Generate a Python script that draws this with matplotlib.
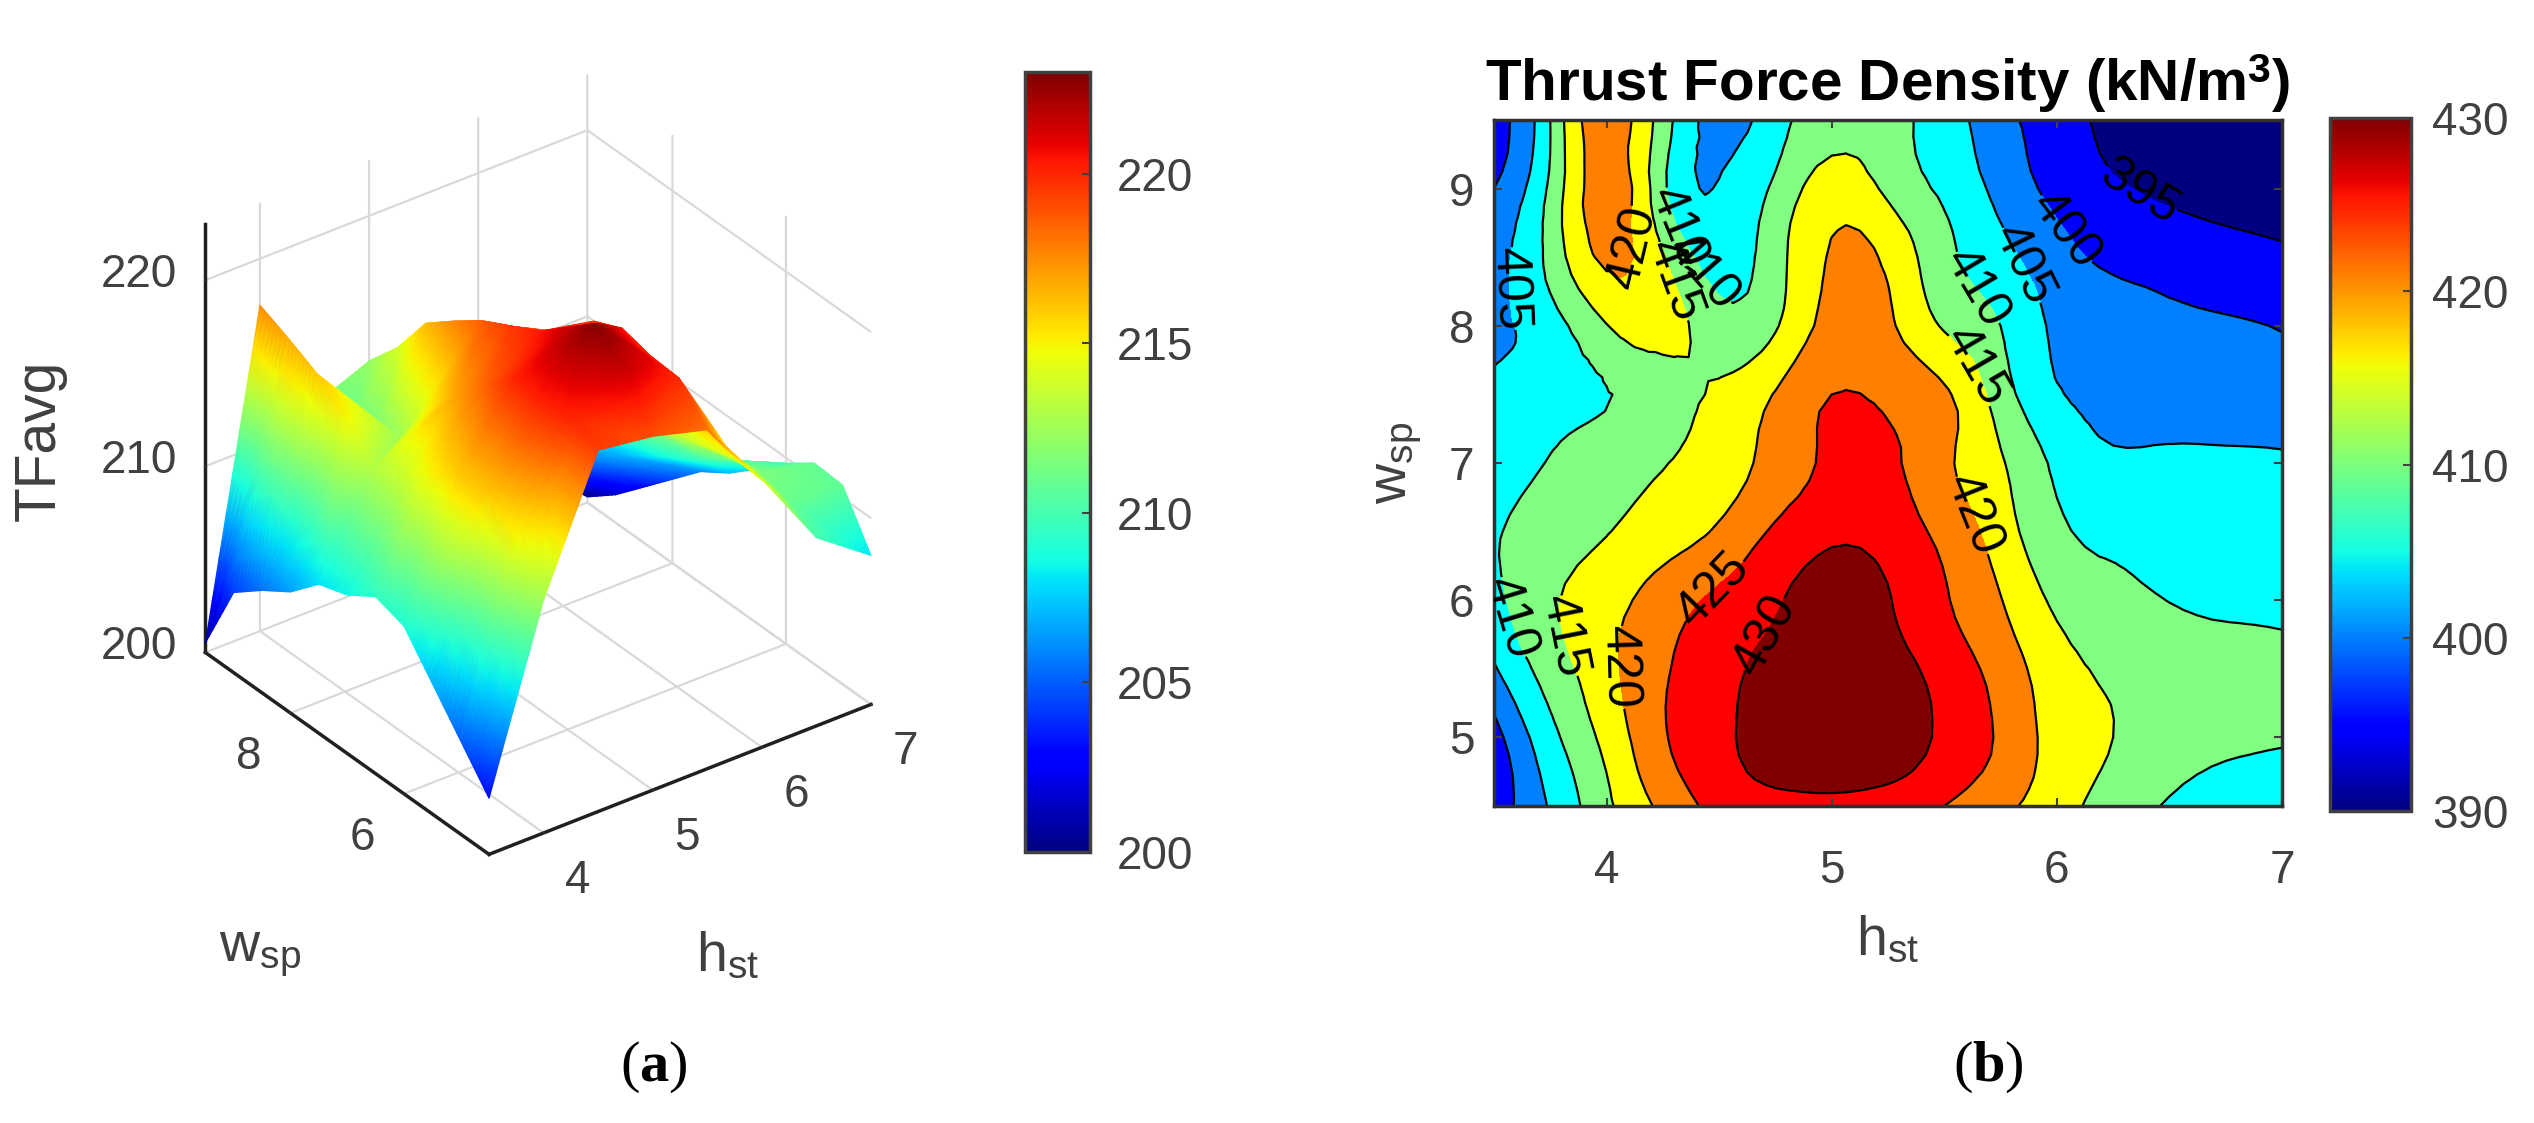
import numpy as np
import matplotlib
matplotlib.use("Agg")
import matplotlib.pyplot as plt
import matplotlib.tri as mtri
from matplotlib.cm import ScalarMappable
from matplotlib.colors import Normalize
from mpl_toolkits.mplot3d import proj3d

plt.rcParams["font.family"] = ["Liberation Sans", "DejaVu Sans"]
plt.rcParams["mathtext.fontset"] = "custom"
plt.rcParams["mathtext.rm"] = "Liberation Sans"
plt.rcParams["mathtext.bf"] = "Liberation Sans:bold"
plt.rcParams["mathtext.it"] = "Liberation Serif:bold"

W, H = 2534, 1123
GREY = "#404040"

# surface values (a)
h_a = [3.5, 4, 4.5, 5, 5.5, 6, 6.5, 7]
w_a = [4.5, 5, 5.5, 6, 6.5, 7, 7.5, 8, 8.5, 9, 9.5]
tf_45 = [203, 212.5, 219.4, 219, 218.2, 214.4, 210.1, 208]
tf_50 = [205, 215, 220, 221.5, 219.9, 214.5, 211, 210.7]
tf_55 = [207, 216, 220.5, 222.9, 220, 214, 211.5, 210.8]
tf_60 = [209, 216, 220, 221.6, 220.4, 213.5, 211, 209.7]
tf_65 = [209.5, 215, 218.5, 220.3, 219.7, 213, 210, 208.3]
tf_70 = [208.5, 213.5, 217, 219.5, 218, 212.5, 209, 207]
tf_75 = [208, 213, 215, 218.7, 217, 211.5, 208, 206]
tf_80 = [206.5, 215, 212.5, 217.6, 216, 211, 207, 204.5]
tf_85 = [205.5, 216, 211, 216.4, 214.5, 210, 205.5, 203]
tf_90 = [204.3, 216.8, 210.5, 214, 213, 208.5, 204, 201.5]
tf_95 = [200.5, 217.5, 211, 212.2, 211, 207, 203, 200.3]

# contour values (b)
h_b = [3.5, 3.75, 4, 4.25, 4.5, 4.75, 5, 5.25, 5.5, 5.75, 6, 6.25, 6.5, 6.75, 7]
w_b = [4.5, 5, 5.5, 6, 6.5, 7, 7.5, 8, 8.5, 9, 9.5]
d_45 = [397, 405.5, 414, 421.2, 426.5, 428, 428.5, 427.5, 425, 421.3, 417, 412.8, 409.5, 407.5, 407]
d_50 = [398, 408.5, 416.5, 424.5, 428.7, 433, 434, 433, 429, 424.3, 418, 415, 412.5, 411, 410.4]
d_55 = [404.5, 412.3, 418.5, 424.5, 428, 432, 433, 432, 428, 423, 417, 414.2, 412.5, 411.5, 411]
d_60 = [408.5, 414.3, 418, 422.5, 426, 429.5, 432, 430.3, 425.5, 420.2, 414, 411.5, 409.9, 409.2, 409]
d_65 = [409.5, 412.5, 414.8, 417.5, 420.7, 425.8, 429, 428, 423.5, 417.5, 411, 408.8, 408, 407.6, 407.3]
d_70 = [407, 410.3, 412.5, 414.7, 417.8, 421.8, 426, 426, 421, 415.5, 409, 405.8, 406, 406, 405.7]
d_75 = [406, 408, 409.8, 412.5, 415.8, 420.3, 425, 424, 420.8, 412.5, 405.5, 403.2, 402.5, 402.2, 402]
d_80 = [404, 408, 414.8, 417, 412, 414.5, 422, 421, 414.5, 410, 404, 402.5, 401.2, 400.5, 399.8]
d_85 = [403.5, 411.5, 421, 415.5, 408, 413, 420.5, 419, 411.5, 406.5, 401.8, 398.9, 397.5, 396.7, 396]
d_90 = [400, 411, 423, 411, 405.2, 411, 417.5, 414, 409, 403.5, 398.5, 395.5, 394.3, 393.5, 392.5]
d_95 = [398, 410, 423, 412.5, 403, 408, 413, 412, 407.5, 401.5, 397.5, 393.5, 392, 391, 390.5]

levels_b = [385, 395, 400, 405, 410, 415, 420, 425, 430, 440]
band_colors = ["#000080", "#0000ff", "#0080ff", "#00ffff", "#80ff80",
               "#ffff00", "#ff8000", "#ff0000", "#800000"]
label_spots = [(6.39, 9.04), (6.03, 8.69), (5.82, 8.42), (5.64, 8.27), (5.60, 7.67),
               (5.60, 6.60), (4.53, 5.98), (4.72, 5.73), (4.03, 5.51), (3.80, 5.73),
               (3.59, 5.88), (3.61, 8.27), (4.10, 8.57), (4.29, 8.32), (4.32, 8.72),
               (4.41, 8.37)]


def px_axes(fig, x0, y0, x1, y1, **kw):
    # pixel box measured from the top left of the image
    return fig.add_axes([x0 / W, 1 - y1 / H, (x1 - x0) / W, (y1 - y0) / H], **kw)


def bar(fig, box, vmin, vmax, ticks, pad):
    cax = px_axes(fig, *box)
    cb = fig.colorbar(ScalarMappable(Normalize(vmin, vmax), "jet"), cax=cax, ticks=ticks)
    cb.ax.tick_params(labelsize=33, colors=GREY, direction="in", length=6, width=1.5, pad=pad)
    cb.outline.set_edgecolor(GREY)
    cb.outline.set_linewidth(2.5)


def refined(h, w, z, subdiv, linear=False):
    # smooth a grid with matplotlib's own triangle refiner
    hh, ww = np.meshgrid(h, w)
    tri = mtri.Triangulation(hh.ravel(), ww.ravel())
    interp = mtri.LinearTriInterpolator(tri, np.ravel(z)) if linear else None
    return mtri.UniformTriRefiner(tri).refine_field(np.ravel(z), triinterpolator=interp, subdiv=subdiv)


fig = plt.figure(figsize=(W / 100, H / 100), dpi=100)

# (a) surface
tf = np.array([tf_45, tf_50, tf_55, tf_60, tf_65, tf_70, tf_75, tf_80, tf_85, tf_90, tf_95])

ax3 = fig.add_axes([-0.0286, 0.073, 0.47, 1.0], projection="3d")
ax3.set_proj_type("ortho")
ax3.view_init(elev=31.9, azim=-126.6)
ax3.set_box_aspect((1, 1, 1.06), zoom=0.727)
ax3.set_xlim(3.5, 7)
ax3.set_ylim(4.5, 9.5)
ax3.set_zlim(200, 223)
ax3.set_xticks([4, 5, 6, 7])
ax3.set_yticks([6, 8])
ax3.set_zticks([200, 210, 220])
for axis in (ax3.xaxis, ax3.yaxis, ax3.zaxis):
    axis.pane.set_visible(False)
    axis._axinfo["grid"].update(color="#d9d9d9", linewidth=1.6)
    axis._axinfo["tick"].update(inward_factor=0.03, outward_factor=0.0)
    axis.line.set_color("#202020")
    axis.line.set_linewidth(2.5)
ax3.tick_params(labelsize=33, colors=GREY)
ax3.tick_params(axis="x", pad=24)
ax3.tick_params(axis="y", pad=24)
ax3.tick_params(axis="z", pad=34)
for t in ax3.xaxis.get_major_ticks():
    t.label1.set_verticalalignment("center")
    t.label1.set_horizontalalignment("left")
for t in ax3.yaxis.get_major_ticks():
    t.label1.set_verticalalignment("center")
    t.label1.set_horizontalalignment("right")
for t in ax3.zaxis.get_major_ticks():
    t.label1.set_verticalalignment("center")
ax3.patch.set_visible(False)
fig.canvas.draw()

# project the surface and paint it far to near
tri_a, z_a = refined(h_a, w_a, tf, 3, linear=True)
xp, yp, _ = proj3d.proj_transform(tri_a.x, tri_a.y, z_a, ax3.get_proj())
pts = ax3.transData.transform(np.column_stack([xp, yp]))
far_first = np.argsort(-(tri_a.x[tri_a.triangles].mean(axis=1) / 3.5 * 0.8
                         + tri_a.y[tri_a.triangles].mean(axis=1) / 5 * 0.6))
over = fig.add_axes([0, 0, 1, 1])
over.set_xlim(0, W)
over.set_ylim(0, H)
over.axis("off")
over.tripcolor(pts[:, 0], pts[:, 1], tri_a.triangles[far_first], z_a, shading="gouraud",
               cmap="jet", norm=Normalize(200, 223), antialiased=False)

fig.text(40 / W, 1 - 440 / H, "TFavg", rotation=90, fontsize=41, color=GREY, ha="center", va="center")
fig.text(260 / W, 1 - 953 / H, r"w$_{\mathrm{sp}}$", fontsize=40, color=GREY, ha="center", va="center")
fig.text(728 / W, 1 - 957 / H, r"h$_{\mathrm{st}}$", fontsize=40, color=GREY, ha="center", va="center")
fig.text(654 / W, 1 - 1067 / H, r"($\mathit{a}$)", fontsize=42, family="Liberation Serif", ha="center", va="center")

bar(fig, (1025, 72, 1090, 852), 200, 223, [200, 205, 210, 215, 220], 19)

# (b) contour
ax2 = px_axes(fig, 1494, 120, 2282, 806)
density = np.array([d_45, d_50, d_55, d_60, d_65, d_70, d_75, d_80, d_85, d_90, d_95])
tri_b, z_b = refined(h_b, w_b, density, 2)
ax2.tricontourf(tri_b, z_b, levels=levels_b, colors=band_colors)
cs = ax2.tricontour(tri_b, z_b, levels=levels_b[1:-1], colors="black", linewidths=1.6)
ax2.clabel(cs, fmt="%d", fontsize=36, manual=label_spots, inline=True, inline_spacing=0)
ax2.set_xlim(3.5, 7)
ax2.set_ylim(4.5, 9.5)
ax2.set_xticks([4, 5, 6, 7])
ax2.set_yticks([5, 6, 7, 8, 9])
ax2.tick_params(labelsize=33, colors=GREY, direction="in", length=6, width=1.5, pad=14, top=True, right=True)
ax2.tick_params(axis="x", pad=31)
for s in ax2.spines.values():
    s.set_edgecolor("#303030")
    s.set_linewidth(2.5)
ax2.set_xlabel(r"h$_{\mathrm{st}}$", fontsize=40, color=GREY, labelpad=16)
ax2.set_ylabel(r"w$_{\mathrm{sp}}$", fontsize=40, color=GREY, labelpad=18)
ax2.set_title(r"Thrust Force Density (kN/m$^{\mathbf{3}}$)", fontsize=42, fontweight="bold", pad=14)
fig.text(1988 / W, 1 - 1067 / H, r"($\mathit{b}$)", fontsize=42, family="Liberation Serif", ha="center", va="center")

bar(fig, (2330, 118, 2411, 811), 390, 430, [390, 400, 410, 420, 430], 15)

fig.savefig("out.png", dpi=100)
